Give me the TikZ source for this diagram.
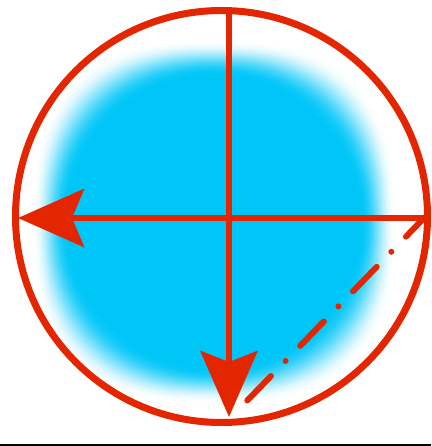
\documentclass[tikz,border=0pt]{standalone}
\usetikzlibrary{arrows.meta}
\definecolor{redline}{RGB}{228,38,0}
\definecolor{blob}{RGB}{0,198,248}
\definecolor{baseline}{RGB}{214,56,64}
\tikzset{
  redstroke/.style={draw=redline, line width=6pt},
  axis/.style={redstroke, line cap=butt},
  lefttip/.style={-{Stealth[length=66pt, width=58pt, inset=12pt]}},
  downtip/.style={-{Stealth[length=66pt, width=57pt, inset=11pt]}},
  dashdot/.style={draw=redline, line width=6pt, line cap=round,
    dash pattern=on 34pt off 21pt on 0pt off 21pt, dash phase=8pt}
}
\begin{document}
\begin{tikzpicture}[x=1pt, y=-1pt]
  \useasboundingbox (0,0) rectangle (431,446);
  \fill[white] (0,0) rectangle (431,446);
  % blurred blue disc, drawn as nested filled superellipses
  \begin{scope}[shift={(214,222)}]
    \foreach \i in {0,...,32}{
      \pgfmathsetmacro{\tt}{\i/32}
      \pgfmathsetmacro{\s}{182-35*\tt}
      \pgfmathsetmacro{\e}{2/(2.7-0.7*\tt)}
      \pgfmathsetmacro{\p}{100*(1-cos(180*\tt))/2}
      \fill[blob!\p!white]
        plot[domain=0.5:360.5, samples=121, smooth cycle, variable=\t]
        ({\s*sign(cos(\t))*abs(cos(\t))^(\e)}, {\s*sign(sin(\t))*abs(sin(\t))^(\e)});
    }
  \end{scope}
  % base line
  \fill[baseline] (0,444) rectangle (431,446);
  % named points
  \coordinate (C) at (221.5,216.5);
  \coordinate (top) at (229,9);
  \coordinate (bottom) at (229,417);
  \coordinate (right) at (424,218);
  \coordinate (left) at (18,218);
  \coordinate (dashend) at (239,409);
  % circle
  \draw[redstroke, line width=7pt] (C) circle (206);
  % axes
  \draw[axis, lefttip] (right) -- (left);
  \draw[axis, downtip] (top) -- (bottom);
  % dash-dot diagonal
  \draw[dashdot] (right) -- (dashend);
\end{tikzpicture}
\end{document}
